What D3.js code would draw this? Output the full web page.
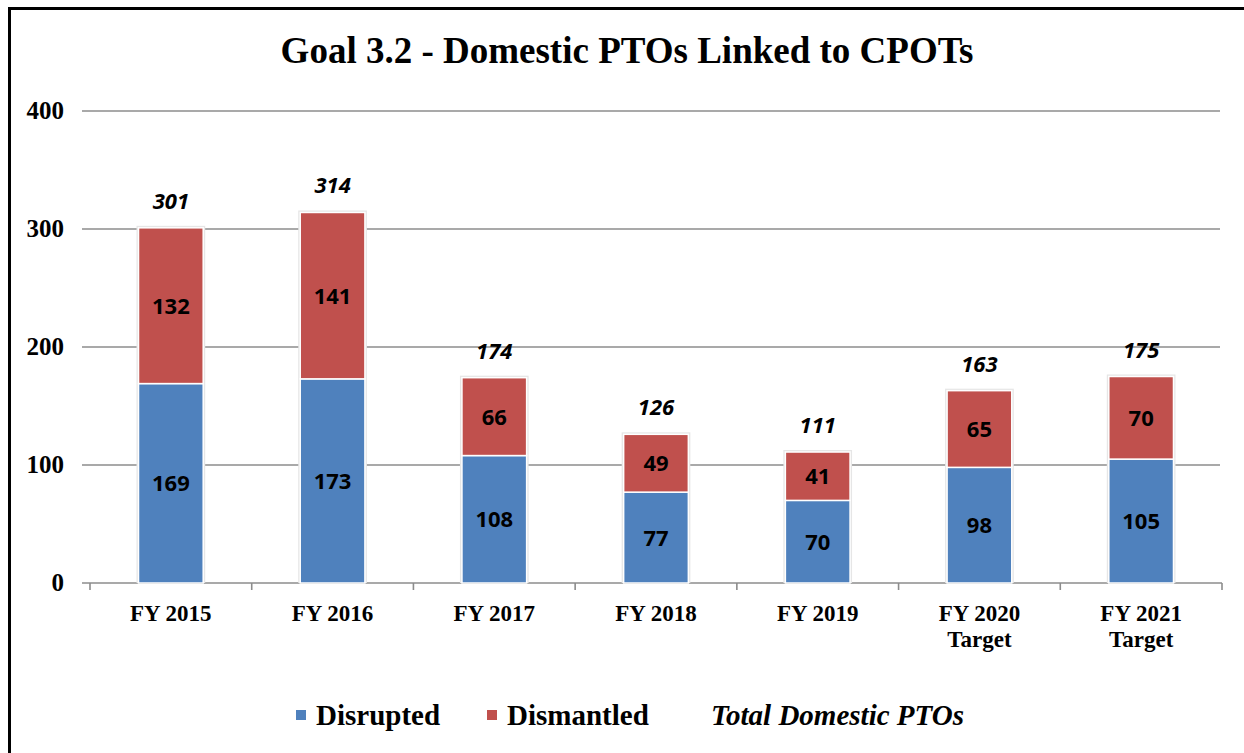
<!DOCTYPE html>
<html>
<head>
<meta charset="utf-8">
<script src="https://cdn.jsdelivr.net/npm/d3@7"></script>
<style>
  body { margin: 0; background: #fff; }
  svg { display: block; }
</style>
</head>
<body>
<svg id="chart" width="1244" height="753"></svg>
<script>
// data
var years = ["FY 2015", "FY 2016", "FY 2017", "FY 2018", "FY 2019", "FY 2020|Target", "FY 2021|Target"];
var disrupted = [169, 173, 108, 77, 70, 98, 105];
var dismantled = [132, 141, 66, 49, 41, 65, 70];
var totals = [301, 314, 174, 126, 111, 163, 175];
var yTicks = [0, 100, 200, 300, 400];

var blue = "#4f81bd", red = "#c0504d";
var serif = "'Liberation Serif', 'DejaVu Serif', serif";
var sans = "'Open Sans', 'Liberation Sans', sans-serif";

const svg = d3.select('svg#chart');

// frame
svg.append('path')
  .attr('d', 'M9.5,753 L9.5,8.5 L1244,8.5')
  .attr('fill', 'none')
  .attr('stroke', '#000')
  .attr('stroke-width', 3);

svg.append('text')
  .attr('x', 627).attr('y', 63)
  .attr('text-anchor', 'middle')
  .style('font-family', serif)
  .style('font-weight', 'bold')
  .style('font-size', '37px')
  .text('Goal 3.2 - Domestic PTOs Linked to CPOTs');

const x = d3.scaleBand().domain(years).range([90, 1222]).paddingInner(0.6).paddingOuter(0.3);
const y = d3.scaleLinear().domain([0, 400]).range([583, 111]);

// grid
svg.append('g').selectAll('line')
  .data(yTicks.filter(d => d > 0))
  .enter().append('line')
  .attr('x1', 82).attr('x2', 1220)
  .attr('y1', d => y(d)).attr('y2', d => y(d))
  .attr('stroke', '#8c8c8c').attr('stroke-width', 1.6);

// y labels
svg.append('g').selectAll('text')
  .data(yTicks)
  .enter().append('text')
  .attr('x', 64).attr('y', d => y(d) + 8)
  .attr('text-anchor', 'end')
  .style('font-family', serif).style('font-weight', 'bold').style('font-size', '25px')
  .text(d => d);

// x axis
const xAxis = d3.axisBottom(d3.scaleBand().domain(years).range([90, 1222]))
  .tickSize(0).tickFormat('');
svg.append('g')
  .attr('transform', 'translate(0,583)')
  .call(xAxis)
  .call(g => g.select('.domain').attr('stroke', '#8c8c8c').attr('stroke-width', 1.6).attr('d', 'M82,0H1222'));

var bw = (1222 - 90) / years.length;
svg.append('g').selectAll('line')
  .data(d3.range(years.length + 1))
  .enter().append('line')
  .attr('x1', i => 90 + i * bw).attr('x2', i => 90 + i * bw)
  .attr('y1', 583).attr('y2', 590)
  .attr('stroke', '#8c8c8c').attr('stroke-width', 1.6);

const stacked = years.map((c, i) => ({ cat: c, dis: disrupted[i], dsm: dismantled[i], tot: totals[i] }));

const bars = svg.append('g').selectAll('g')
  .data(stacked)
  .enter().append('g');

// soft shadow behind bars
bars.append('rect')
  .attr('x', d => x(d.cat) - 2)
  .attr('y', d => y(d.dis + d.dsm) - 2)
  .attr('width', x.bandwidth() + 4)
  .attr('height', d => y(0) - y(d.dis + d.dsm) + 2)
  .attr('fill', '#e6e6e6');

bars.append('rect')
  .attr('x', d => x(d.cat))
  .attr('y', d => y(d.dis))
  .attr('width', x.bandwidth())
  .attr('height', d => y(0) - y(d.dis))
  .attr('fill', blue)
  .attr('stroke', '#fff').attr('stroke-width', 1.5);

bars.append('rect')
  .attr('x', d => x(d.cat))
  .attr('y', d => y(d.dis + d.dsm))
  .attr('width', x.bandwidth())
  .attr('height', d => y(d.dis) - y(d.dis + d.dsm))
  .attr('fill', red)
  .attr('stroke', '#fff').attr('stroke-width', 1.5);

function lbl(sel) {
  return sel.attr('text-anchor', 'middle')
    .style('font-family', sans).style('font-weight', 'bold').style('font-size', '22px');
}

bars.append('text').call(lbl)
  .attr('x', d => x(d.cat) + x.bandwidth() / 2)
  .attr('y', d => (y(0) + y(d.dis)) / 2 + 8)
  .text(d => d.dis);

bars.append('text').call(lbl)
  .attr('x', d => x(d.cat) + x.bandwidth() / 2)
  .attr('y', d => (y(d.dis) + y(d.dis + d.dsm)) / 2 + 8)
  .text(d => d.dsm);

bars.append('text').call(lbl)
  .style('font-style', 'italic')
  .attr('x', d => x(d.cat) + x.bandwidth() / 2)
  .attr('y', d => y(d.tot) - 19)
  .text(d => d.tot);

// category labels
const cl = svg.append('g').selectAll('text')
  .data(years)
  .enter().append('text')
  .attr('x', d => x(d) + x.bandwidth() / 2)
  .attr('y', 621)
  .attr('text-anchor', 'middle')
  .style('font-family', serif).style('font-weight', 'bold').style('font-size', '23px');
cl.selectAll('tspan')
  .data(d => d.split('|'))
  .enter().append('tspan')
  .attr('x', function () { return d3.select(this.parentNode).attr('x'); })
  .attr('dy', (d, i) => i ? 26 : 0)
  .text(d => d);

// legend
const legend = svg.append('g').style('font-family', serif).style('font-weight', 'bold').style('font-size', '29px');
[[blue, 'Disrupted', 296], [red, 'Dismantled', 487]].forEach(function (l) {
  legend.append('rect').attr('x', l[2]).attr('y', 710).attr('width', 10).attr('height', 10).attr('fill', l[0]);
  legend.append('text').attr('x', l[2] + 20).attr('y', 725).text(l[1]);
});
legend.append('text').attr('x', 711).attr('y', 725).style('font-style', 'italic').text('Total Domestic PTOs');
</script>
</body>
</html>
